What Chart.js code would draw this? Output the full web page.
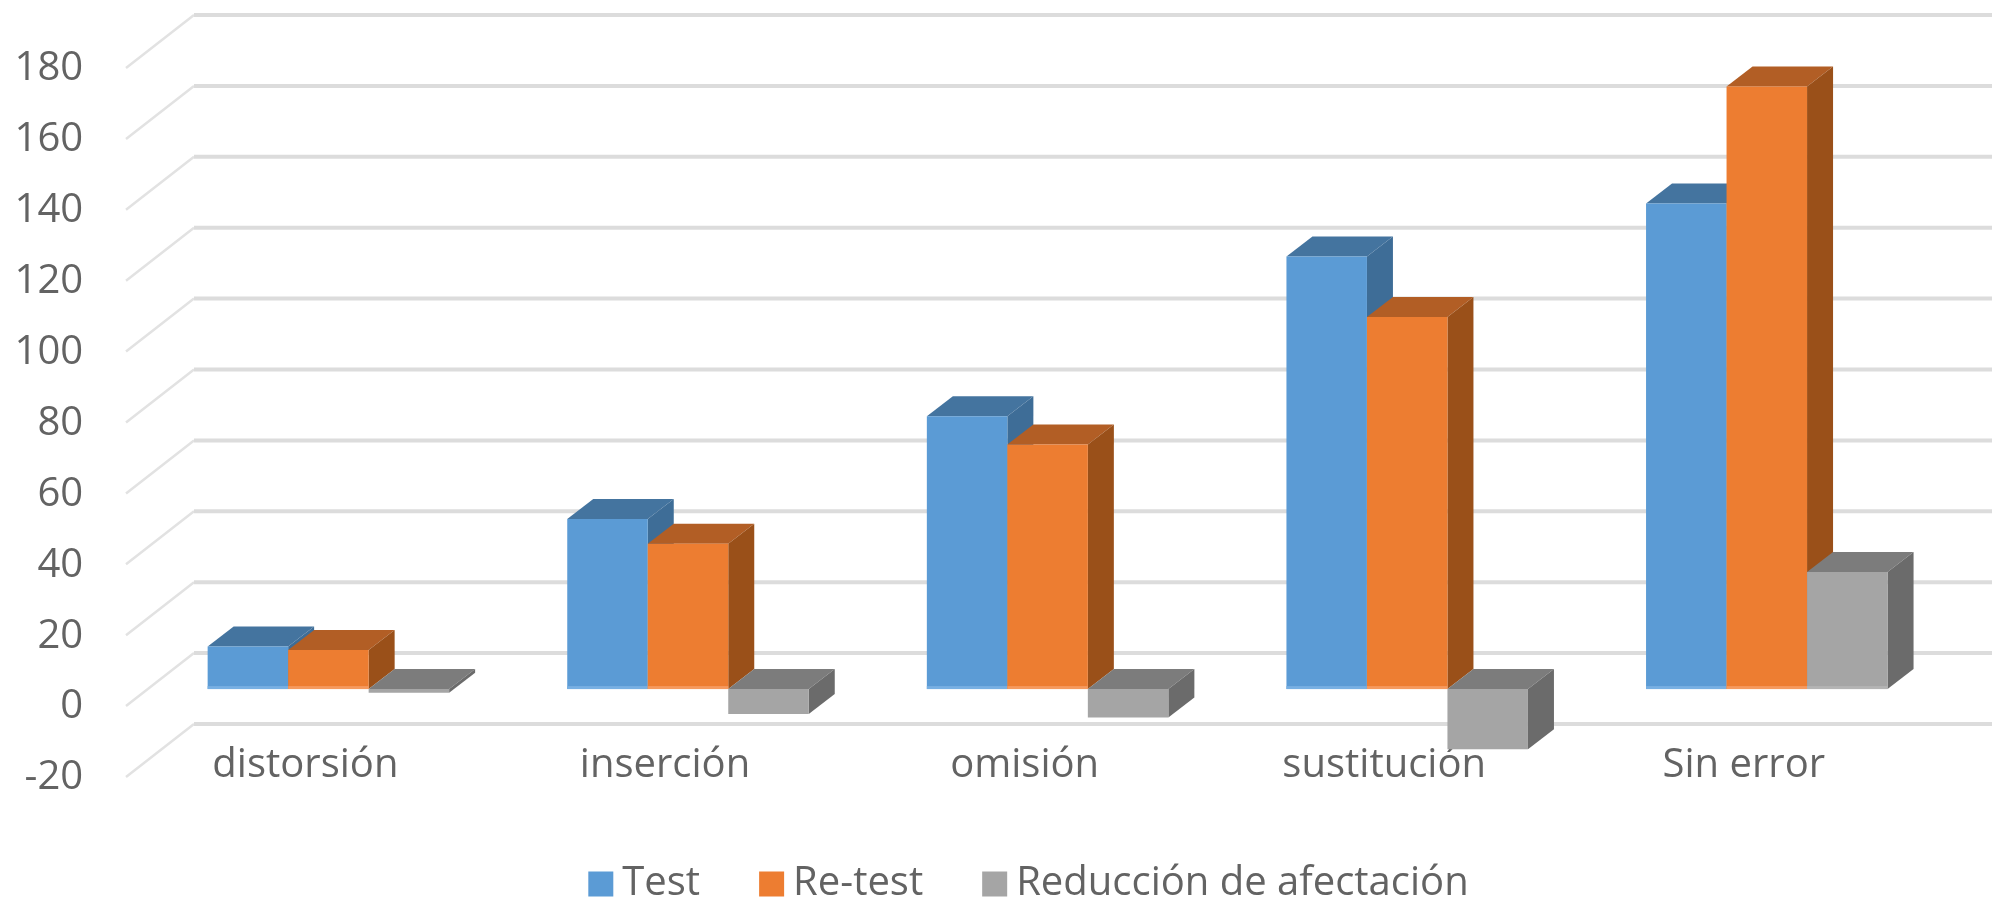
<!DOCTYPE html>
<html>
<head>
<meta charset="utf-8">
<title>Test / Re-test</title>
<script src="https://cdn.jsdelivr.net/npm/chart.js@4"></script>
<style>
    html, body { margin: 0; padding: 0; background: #fff; }
    .chart-container { position: relative; width: 1992px; height: 898px; }
</style>
</head>
<body>
<div class="chart-container"><canvas id="myChart"></canvas></div>
<script>
// Chart data
const categories = ['distorsión', 'inserción', 'omisión', 'sustitución', 'Sin error'];
const testValues = [12, 48, 77, 122, 137];
const retestValues = [11, 41, 69, 105, 170];
const reductionValues = [-1, -7, -8, -17, 33];
const yMin = -20;
const yMax = 180;
const yStep = 20;

// Face colors of each series: front, top, side, light strip at the base
const testColors = ['#5b9bd5', '#44749f', '#3e6d97', '#78b0e3'];
const retestColors = ['#ed7d31', '#b25e25', '#9a5019', '#f59a5f'];
const reductionColors = ['#a5a5a5', '#7c7c7c', '#6b6b6b', '#b4b4b4'];
const seriesColors = [testColors, retestColors, reductionColors];

// Fake 3D: how far the bar goes back, and where the walls sit compared to the bar plane
const barDepthX = 26;
const barDepthY = 20;
const wallFrontX = -22.6;
const wallFrontY = 17;
const wallBackX = 45.4;
const wallBackY = -36;

const fontFamily = '"Open Sans", sans-serif';
const textColor = '#636363';

// Draws the grid walls, then the bars with their faces, blue first so orange and gray overlap it
const fake3d = {
    id: 'fake3d',
    beforeDatasetsDraw(chart) {
        const ctx = chart.ctx;
        const area = chart.chartArea;
        const yScale = chart.scales.y;

        ctx.save();
        yScale.ticks.forEach(tick => {
            const y = yScale.getPixelForValue(tick.value);
            ctx.strokeStyle = '#e2e2e2';
            ctx.lineWidth = 2.5;
            ctx.beginPath();
            ctx.moveTo(area.left + wallFrontX, y + wallFrontY);
            ctx.lineTo(area.left + wallBackX, y + wallBackY);
            ctx.stroke();
            ctx.strokeStyle = '#dcdcdc';
            ctx.lineWidth = 4;
            ctx.beginPath();
            ctx.moveTo(area.left + wallBackX, y + wallBackY);
            ctx.lineTo(chart.width, y + wallBackY);
            ctx.stroke();
        });

        chart.data.datasets.forEach((dataset, i) => {
            const colors = seriesColors[i];
            chart.getDatasetMeta(i).data.forEach((bar, j) => {
                const left = bar.x - bar.width / 2;
                const right = bar.x + bar.width / 2;
                const top = Math.min(bar.y, bar.base);
                const bottom = Math.max(bar.y, bar.base);

                // top face
                ctx.fillStyle = colors[1];
                ctx.beginPath();
                ctx.moveTo(left, top);
                ctx.lineTo(left + barDepthX, top - barDepthY);
                ctx.lineTo(right + barDepthX, top - barDepthY);
                ctx.lineTo(right, top);
                ctx.closePath();
                ctx.fill();

                // side face
                ctx.fillStyle = colors[2];
                ctx.beginPath();
                ctx.moveTo(right, top);
                ctx.lineTo(right + barDepthX, top - barDepthY);
                ctx.lineTo(right + barDepthX, bottom - barDepthY);
                ctx.lineTo(right, bottom);
                ctx.closePath();
                ctx.fill();

                bar.draw(ctx);

                if (dataset.data[j] > 0) {
                    ctx.fillStyle = colors[3];
                    ctx.fillRect(left, bottom - 3, bar.width, 3);
                }
            });
        });
        ctx.restore();
        return false;
    }
};

new Chart(document.getElementById('myChart').getContext('2d'), {
    type: 'bar',
    data: {
        labels: categories,
        datasets: [
            { label: 'Test', data: testValues, backgroundColor: testColors[0] },
            { label: 'Re-test', data: retestValues, backgroundColor: retestColors[0] },
            { label: 'Reducción de afectación', data: reductionValues, backgroundColor: reductionColors[0] }
        ]
    },
    plugins: [fake3d],
    options: {
        responsive: true,
        maintainAspectRatio: false,
        animation: false,
        layout: { padding: { top: 51, right: 45.4, bottom: -16, left: 121.4 } },
        datasets: { bar: { barPercentage: 1, categoryPercentage: 0.6716 } },
        plugins: {
            tooltip: { enabled: false },
            legend: {
                display: true,
                position: 'bottom',
                labels: {
                    usePointStyle: true,
                    pointStyle: 'rect',
                    boxWidth: 3,
                    boxHeight: 25,
                    padding: 70,
                    color: textColor,
                    font: { family: fontFamily, size: 40 }
                }
            }
        },
        scales: {
            x: {
                grid: { display: false },
                border: { display: false },
                afterFit: scale => { scale.height = 34; },
                ticks: {
                    autoSkip: false,
                    maxRotation: 0,
                    labelOffset: -23,
                    mirror: true,
                    padding: -30,
                    color: textColor,
                    font: { family: fontFamily, size: 40 }
                }
            },
            y: {
                min: yMin,
                max: yMax,
                grid: { display: false },
                border: { display: false },
                afterFit: scale => { scale.width = 27.2; },
                ticks: {
                    stepSize: yStep,
                    labelOffset: 18,
                    mirror: true,
                    crossAlign: 'far',
                    padding: -134,
                    color: textColor,
                    font: { family: fontFamily, size: 40 }
                }
            }
        }
    }
});
</script>
</body>
</html>
